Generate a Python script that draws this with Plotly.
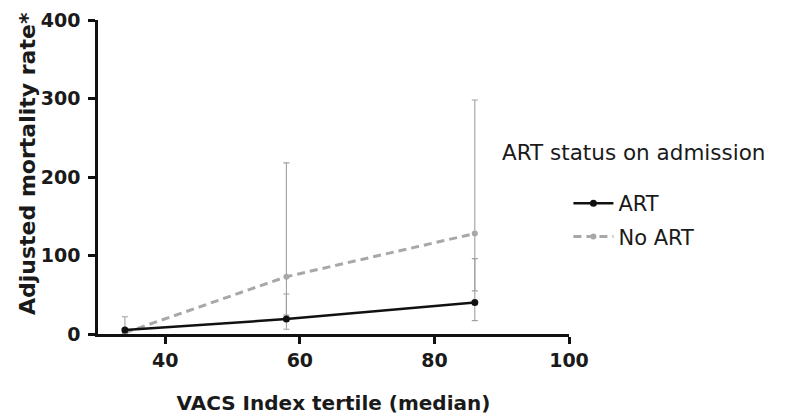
import plotly.graph_objects as go

x_median = [34, 58, 86]

art_rate = [5, 19, 40]
art_upper = [22, 51, 96]
art_lower = [1, 6, 17]

noart_rate = [1.5, 73, 128]
noart_upper = [6, 218, 298]
noart_lower = [0.3, 24, 55]

x_ticks = [40, 60, 80, 100]
y_ticks = [0, 100, 200, 300, 400]

FONT = "DejaVu Sans"

# page has an 8px body margin; figure placed at (8, 8)
W, H = 777, 412
L, R, T, B = 90, 216, 12, 86
PW, PH = W - L - R, H - T - B

def err(vals, up, lo):
    return (dict(type="data", symmetric=False,
                 array=[u - v for u, v in zip(up, vals)],
                 arrayminus=[v - l for v, l in zip(vals, lo)],
                 color="#a0a0a0", thickness=1.1, width=3))

fig = go.Figure()
fig.add_trace(go.Scatter(
    x=x_median, y=noart_rate, name="No ART", mode="lines+markers",
    line=dict(color="#a8a8a8", width=3, dash="8px,5px"),
    marker=dict(color="#a8a8a8", size=6),
    error_y=err(noart_rate, noart_upper, noart_lower),
    legendgroup="b", legendrank=2, cliponaxis=False))
fig.add_trace(go.Scatter(
    x=x_median, y=art_rate, name="ART", mode="lines+markers",
    line=dict(color="#111111", width=2.5),
    marker=dict(color="#111111", size=7),
    error_y=err(art_rate, art_upper, art_lower),
    legendgroup="a", legendrank=1, cliponaxis=False))

fig.update_layout(
    width=W, height=H,
    margin=dict(l=L, r=R, t=T, b=B, autoexpand=False),
    paper_bgcolor="white", plot_bgcolor="white",
    font=dict(family=FONT, color="#1a1a1a"),
    showlegend=True,
    legend=dict(x=1.02 - 10 / PW, xanchor="left",
                y=(H - B - (203 - 8) + 20) / PH, yanchor="top",
                font=dict(family=FONT, size=21, color="#1a1a1a"),
                itemwidth=40,
                tracegroupgap=3, traceorder="grouped",
                bgcolor="rgba(0,0,0,0)"),
    annotations=[
        dict(text="ART status on admission", xref="paper", yref="paper",
             x=(500 - 8 - L) / PW, y=(H - B - (152 - 8)) / PH,
             xanchor="left", yanchor="middle", showarrow=False,
             font=dict(family=FONT, size=21.5, color="#1a1a1a")),
        dict(text="Adjusted mortality rate*", xref="paper", yref="paper",
             x=(27 - 8 - L) / PW, y=(H - B - (164 - 8)) / PH, textangle=-90,
             xanchor="center", yanchor="middle", showarrow=False,
             font=dict(family=FONT, size=22, weight="bold", color="#1a1a1a")),
    ],
)
fig.update_xaxes(
    automargin=False,
    range=[30, 100], tickvals=x_ticks, showgrid=False, zeroline=False,
    showline=True, linecolor="#111111", linewidth=2.5,
    ticks="outside", ticklen=7, tickwidth=2.5, tickcolor="#111111",
    tickfont=dict(family=FONT, size=19, weight="bold", color="#1a1a1a"),
    title=dict(text="VACS Index tertile (median)", standoff=27,
               font=dict(family=FONT, size=20, weight="bold", color="#1a1a1a")))
fig.update_yaxes(
    automargin=False,
    range=[0, 400], tickvals=y_ticks, showgrid=False, zeroline=False,
    showline=True, linecolor="#111111", linewidth=2.5,
    ticks="outside", ticklen=7, tickwidth=2.5, tickcolor="#111111",
    ticklabelstandoff=4,
    tickfont=dict(family=FONT, size=19, weight="bold", color="#1a1a1a"))

fig.write_html("out.html")
